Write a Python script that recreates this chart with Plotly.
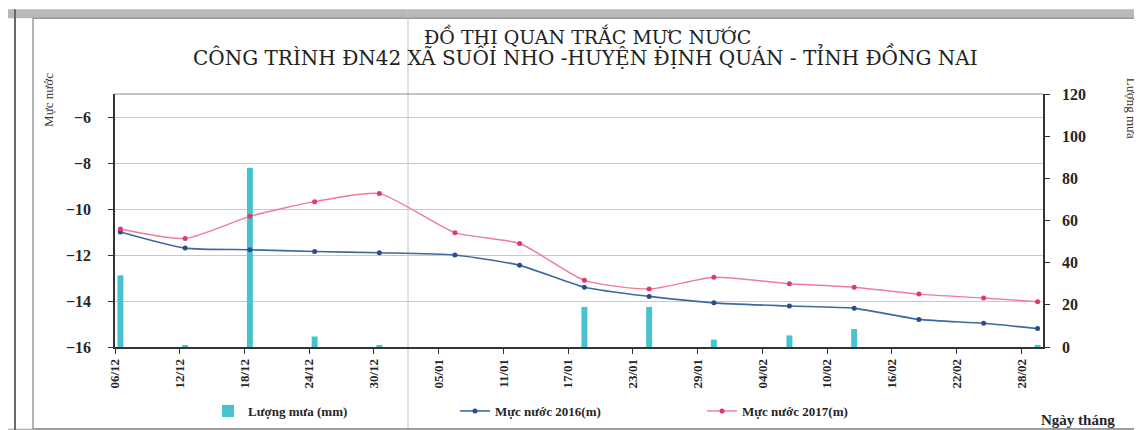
import plotly.graph_objects as go
import pandas as pd

# ---- data ----
dates = ["2015-12-06", "2015-12-12", "2015-12-18", "2015-12-24", "2015-12-30",
         "2016-01-06", "2016-01-12", "2016-01-18", "2016-01-24", "2016-01-30",
         "2016-02-06", "2016-02-12", "2016-02-18", "2016-02-24", "2016-02-29"]
rain_mm = [34, 0.5, 85, 5, 0.5, 0, 0, 19, 19, 3.5, 5.5, 8.5, 0, 0, 1]
level_2016 = [-11.0, -11.7, -11.77, -11.85, -11.9, -12.0, -12.45, -13.4, -13.8, -14.08,
              -14.22, -14.32, -14.8, -14.97, -15.2]
level_2017 = [-10.87, -11.28, -10.32, -9.68, -9.33, -11.03, -11.5, -13.1, -13.48, -12.97,
              -13.25, -13.4, -13.7, -13.87, -14.03]
title_lines = ["ĐỒ THỊ QUAN TRẮC MỰC NƯỚC",
               "CÔNG TRÌNH ĐN42 XÃ SUỐI NHO -HUYỆN ĐỊNH QUÁN - TỈNH ĐỒNG NAI"]
names = ["Lượng mưa (mm)", "Mực nước 2016(m)", "Mực nước 2017(m)"]
left_title = "Mực nước"
right_title = "Lượng mưa"
x_title = "Ngày tháng"

# points sit at the middle of each day (date axis, between tick marks)
x = pd.to_datetime(dates) + pd.Timedelta(hours=12)

SERIF = "Liberation Serif"
DAY_MS = 86400000

fig = go.Figure()
fig.add_trace(go.Bar(
    x=x, y=rain_mm, name=names[0], yaxis="y",
    marker=dict(color="#45C3CE", line=dict(width=0)),
    width=0.55 * DAY_MS,
))
fig.add_trace(go.Scatter(
    x=x, y=level_2016, name=names[1], yaxis="y2", mode="lines+markers",
    line=dict(color="#3D6A9E", width=1.6, shape="spline", smoothing=0.6),
    marker=dict(color="#2B4C8C", size=5, symbol="circle"),
))
fig.add_trace(go.Scatter(
    x=x, y=level_2017, name=names[2], yaxis="y2", mode="lines+markers",
    line=dict(color="#F27A98", width=1.4, shape="spline", smoothing=0.6),
    marker=dict(color="#E0386E", size=5, symbol="circle"),
))

L, R, T, B = 107, 107, 86, 87
W, H = 1142, 430
PW, PH = W - L - R, H - T - B


def xp(px):
    return (px - L) / PW


def yp(py):
    return (H - B - py) / PH


tickfont = dict(family=SERIF, size=16, color="#262626", weight="bold")
ann_common = dict(xref="paper", yref="paper", showarrow=False,
                  xanchor="center", yanchor="middle")

fig.update_layout(
    width=W, height=H,
    margin=dict(l=L, r=R, t=T, b=B),
    paper_bgcolor="white", plot_bgcolor="white",
    showlegend=True,
    xaxis=dict(
        type="date", range=["2015-12-06", "2016-03-01"],
        tick0="2015-12-06", dtick=6 * DAY_MS, tickformat="%d/%m",
        tickangle=-90,
        tickfont=dict(family=SERIF, size=13, color="#262626", weight="bold"),
        ticks="outside", ticklen=5, tickcolor="#333333",
        showline=True, linecolor="#333333", linewidth=1.5,
        showgrid=False, zeroline=False,
    ),
    yaxis=dict(
        side="right", range=[0, 120], dtick=20, tick0=0,
        tickfont=tickfont, ticks="outside", ticklen=5, tickcolor="#333333",
        ticklabelstandoff=9,
        showline=True, linecolor="#333333", linewidth=1.5,
        showgrid=False, zeroline=False,
    ),
    yaxis2=dict(
        side="left", overlaying="y", range=[-16, -5], dtick=2, tick0=-16,
        tickfont=tickfont, ticks="outside", ticklen=5, tickcolor="#333333",
        ticklabelstandoff=14,
        showline=True, linecolor="#333333", linewidth=1.5,
        showgrid=True, gridcolor="#C9C9C9", gridwidth=1, zeroline=False,
    ),
    legend=dict(orientation="h", x=xp(200), xanchor="left", y=yp(408), yanchor="middle",
                entrywidth=202, entrywidthmode="pixels",
                font=dict(family=SERIF, size=13, color="#262626", weight="bold"),
                bgcolor="rgba(0,0,0,0)", traceorder="normal"),
    annotations=[
        dict(text=title_lines[0], x=xp(579), y=yp(27),
             font=dict(family="DejaVu Serif", size=19, color="#222222"), **ann_common),
        dict(text=title_lines[1], x=xp(577), y=yp(48),
             font=dict(family="DejaVu Serif", size=20, color="#222222"), **ann_common),
        dict(text=left_title, x=xp(41), y=yp(92), textangle=-90,
             font=dict(family=SERIF, size=13, color="#333333"), **ann_common),
        dict(text=right_title, x=xp(1123), y=yp(100), textangle=90,
             font=dict(family=SERIF, size=13, color="#333333"), **ann_common),
        dict(text=x_title, x=xp(1070), y=yp(417),
             font=dict(family=SERIF, size=15, color="#262626", weight="bold"), **ann_common),
    ],
    shapes=[
        # top border of plot area
        dict(type="line", xref="paper", yref="paper", x0=0, x1=1, y0=1, y1=1,
             line=dict(color="#8A8A8A", width=1)),
        # outer frame of the sheet
        dict(type="rect", xref="paper", yref="paper", x0=xp(25), x1=xp(1136),
             y0=yp(426), y1=yp(9), line=dict(color="#9A9A9A", width=1.5)),
        dict(type="rect", xref="paper", yref="paper", x0=xp(0), x1=xp(1142),
             y0=yp(9), y1=yp(0), fillcolor="#B9B9B9", line=dict(width=0), layer="below"),
        dict(type="rect", xref="paper", yref="paper", x0=xp(0), x1=xp(1142),
             y0=yp(430), y1=yp(426), fillcolor="#B0B0B0", line=dict(width=0), layer="below"),
        dict(type="line", xref="paper", yref="paper", x0=xp(7), x1=xp(7), y0=yp(430), y1=yp(0),
             line=dict(color="#6A6A6A", width=2)),
        dict(type="line", xref="paper", yref="paper", x0=xp(400), x1=xp(400), y0=yp(430), y1=yp(0),
             line=dict(color="#C4C4C4", width=1), layer="below"),
    ],
)

fig.write_html("out.html")
